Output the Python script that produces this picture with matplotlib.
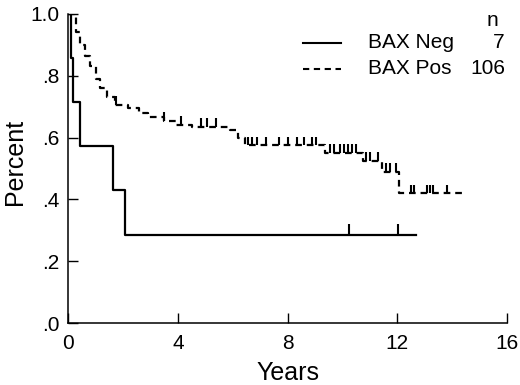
import numpy as np
import matplotlib.pyplot as plt

plt.rcParams['font.family'] = ['Liberation Sans', 'DejaVu Sans']

# BAX Neg (n=7): step times (years) and survival after each step
neg_t = [0, 0.10, 0.17, 0.44, 1.63, 2.09, 12.7]
neg_s = [1.0, 0.857, 0.714, 0.571, 0.429, 0.286, 0.286]
neg_cens = [10.24, 12.03]

# BAX Pos (n=106)
pos_t = [0, 0.27, 0.44, 0.62, 0.80, 1.00, 1.17, 1.42, 1.71, 2.2, 2.6, 2.9,
         3.5, 3.95, 4.5, 5.9, 6.2, 6.45, 9.37, 10.75, 11.45, 12.05, 14.4]
pos_s = [1.0, 0.94, 0.90, 0.865, 0.83, 0.79, 0.76, 0.73, 0.705, 0.695, 0.68, 0.665,
         0.655, 0.64, 0.635, 0.625, 0.60, 0.575, 0.55, 0.525, 0.49, 0.42, 0.42]
pos_cens = [1.75, 3.5, 4.1, 4.85, 5.05, 5.4, 6.55, 6.7, 6.9, 7.2, 7.7, 8.0, 8.35,
            8.6, 8.9, 9.05, 9.55, 9.7, 9.9, 10.05, 10.2, 10.35, 10.5, 10.85, 11.0,
            11.3, 11.6, 11.75, 11.95, 12.5, 12.6, 13.1, 13.2, 13.3, 13.8]

labels = ['BAX Neg', 'BAX Pos']
counts = ['7', '106']

def surv_at(t, s, x):
    idx = np.searchsorted(t, x, side='right') - 1
    return np.array(s)[idx]

fig = plt.figure(figsize=(5.2, 3.85), dpi=100)
ax = fig.add_axes([0.131, 0.161, 0.844, 0.803])

ax.step(neg_t, neg_s, where='post', color='black', lw=1.6)
ax.step(pos_t, pos_s, where='post', color='black', lw=1.6, linestyle=(0, (3, 2.2)))

tick_h = 0.035
ys = surv_at(neg_t, neg_s, neg_cens)
ax.vlines(neg_cens, ys, ys + tick_h, color='black', lw=1.5)
ys = surv_at(pos_t, pos_s, pos_cens)
ax.vlines(pos_cens, ys, ys + tick_h * 0.8, color='black', lw=1.5)

ax.set_xlim(0, 16)
ax.set_ylim(0, 1.0)
ax.set_xticks([0, 4, 8, 12, 16])
ax.set_yticks([0, 0.2, 0.4, 0.6, 0.8, 1.0])
ax.set_yticklabels(['.0', '.2', '.4', '.6', '.8', '1.0'])
ax.tick_params(direction='in', length=7, width=1, labelsize=15)
ax.tick_params(axis='x', pad=8)
ax.tick_params(axis='y', pad=6)
for side in ['top', 'right']:
    ax.spines[side].set_visible(False)
for side in ['left', 'bottom']:
    ax.spines[side].set_linewidth(1.1)

# axis titles as figure text so they sit where the scan has them
fig.text(288 / 520, 1 - 380 / 385, 'Years', fontsize=18, ha='center', va='baseline')
fig.text(15 / 520, 1 - 162 / 385, 'Percent', fontsize=18, rotation=90,
         ha='center', va='center')

# legend block, top right
fig.text(492 / 520, 1 - 20 / 385, 'n', fontsize=15, ha='center', va='center')
styles = ['-', (0, (3, 2.2))]
rows = [43, 69]
for lab, cnt, st, y in zip(labels, counts, styles, rows):
    fy = 1 - y / 385
    fig.add_artist(plt.Line2D([303 / 520, 341 / 520], [fy, fy], color='black',
                              lw=1.5, linestyle=st))
    fig.text(368 / 520, fy, lab, fontsize=15, ha='left', va='center')
    fig.text(505 / 520, fy, cnt, fontsize=15, ha='right', va='center')

fig.savefig('out.png', dpi=100)
